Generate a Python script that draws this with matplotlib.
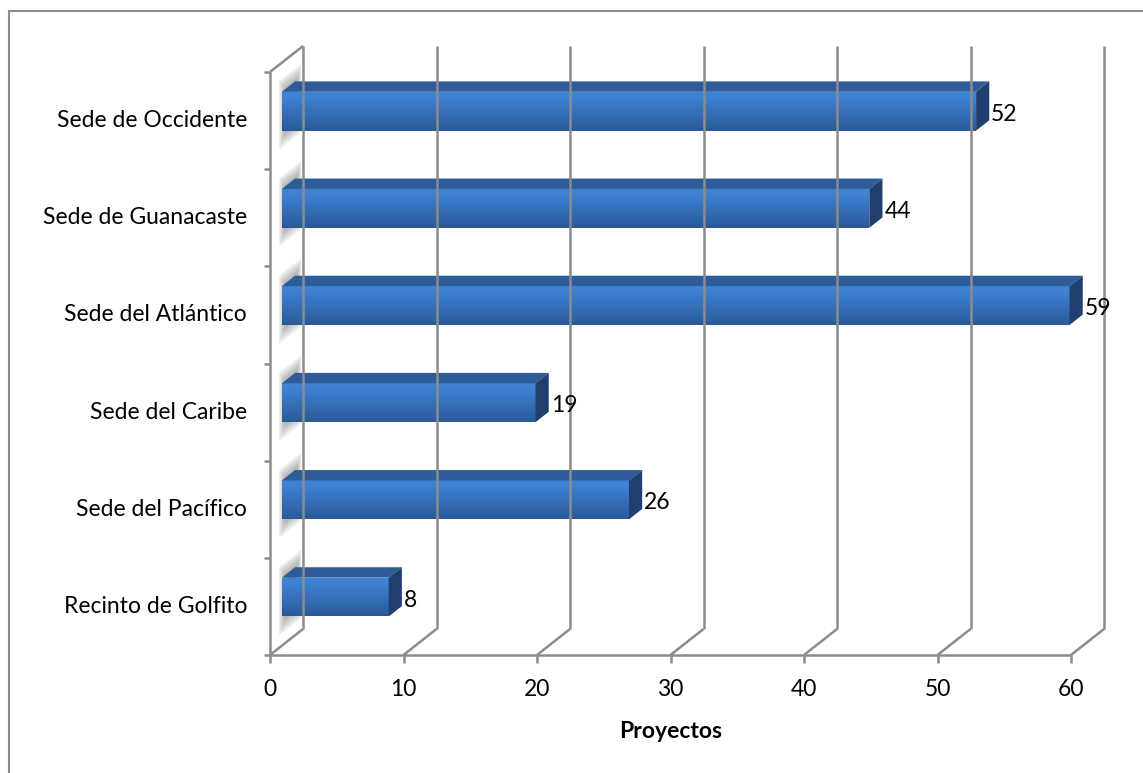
import matplotlib
matplotlib.use("Agg")
import matplotlib.pyplot as plt
import numpy as np
from matplotlib.colors import to_rgb
from matplotlib.patches import Polygon, Rectangle
from matplotlib.transforms import IdentityTransform, ScaledTranslation

# data (bottom to top, as drawn)
sedes = [
    "Recinto de Golfito",
    "Sede del Pacífico",
    "Sede del Caribe",
    "Sede del Atlántico",
    "Sede de Guanacaste",
    "Sede de Occidente",
]
proyectos = [8, 26, 19, 59, 44, 52]
x_ticks = [0, 10, 20, 30, 40, 50, 60]

plt.rcParams["font.family"] = ["Lato", "DejaVu Sans"]

GRID = "#8c8c8c"
FS = 16.5
DX, DY = 33, 26          # depth of the back wall, in pixels
D_FRONT, D_BACK = 0.36, 0.76   # bar depth range (fraction of wall depth)
BAR_H = 0.40

fig = plt.figure(figsize=(11.43, 7.73), dpi=100)
ax = fig.add_axes([270 / 1143, 118 / 773, 801 / 1143, 583 / 773])
ax.set_xlim(0, 60)
ax.set_ylim(0, len(sedes))
ax.axis("off")

ident = IdentityTransform()


def proj(x, y, d):
    """Data point pushed back d (0=front, 1=back wall) -> display pixels."""
    px, py = ax.transData.transform((x, y))
    return (px + d * DX, py + d * DY)


def offset(dx_px, dy_px):
    return ax.transData + ScaledTranslation(dx_px / 100, dy_px / 100, fig.dpi_scale_trans)


def seg(p, q, **kw):
    ax.plot([p[0], q[0]], [p[1], q[1]], transform=ident, clip_on=False,
            color=GRID, lw=1.8, solid_capstyle="butt", **kw)


ymax = len(sedes)

# walls / gridlines
for t in x_ticks:
    seg(proj(t, 0, 1), proj(t, ymax, 1))
    seg(proj(t, 0, 0), proj(t, 0, 1))
    bx, by = proj(t, 0, 0)
    seg((bx, by), (bx, by - 8))
seg(proj(0, 0, 0), proj(0, ymax, 0))
seg(proj(0, ymax, 0), proj(0, ymax, 1))
seg(proj(0, 0, 0), proj(60, 0, 0))
for k in range(ymax + 1):
    lx, ly = proj(0, k, 0)
    seg((lx - 6, ly), (lx, ly))

# bars
top_c = np.array(to_rgb("#3e82d4"))
bot_c = np.array(to_rgb("#2a5896"))
n_strips = 30
for i, (name, v) in enumerate(zip(sedes, proyectos)):
    c = i + 0.5
    y0, y1 = c - BAR_H / 2, c + BAR_H / 2

    # soft shadow on the left wall
    for s in range(7):
        g = s * 0.03
        ax.add_patch(Polygon(
            [proj(0, y0 - 0.17 + g, 0.28 + s * 0.04), proj(0, y0 - 0.17 + g, 0.95 - s * 0.03),
             proj(0, y1 + 0.13 - g, 0.95 - s * 0.03), proj(0, y1 + 0.13 - g, 0.28 + s * 0.04)],
            closed=True, transform=ident, fc="#4a4a4a", ec="none", alpha=0.1, clip_on=False))

    # front face with vertical gradient
    h = BAR_H / n_strips
    for k in range(n_strips):
        f = (k + 0.5) / n_strips
        col = bot_c + (top_c - bot_c) * min(1.0, f * 1.15)
        ax.add_patch(Rectangle((0, y0 + k * h), v, h * 1.02,
                               transform=offset(D_FRONT * DX, D_FRONT * DY),
                               fc=col, ec="none", clip_on=False))
    # top face
    ax.add_patch(Polygon(
        [proj(0, y1, D_FRONT), proj(v, y1, D_FRONT), proj(v, y1, D_BACK), proj(0, y1, D_BACK)],
        closed=True, transform=ident, fc="#2d5c98", ec="none", clip_on=False))
    # side face
    ax.add_patch(Polygon(
        [proj(v, y0, D_FRONT), proj(v, y1, D_FRONT), proj(v, y1, D_BACK), proj(v, y0, D_BACK)],
        closed=True, transform=ident, fc="#213f6e", ec="none", clip_on=False))

    # value label
    ax.text(v, c, f"{v}", transform=offset(D_BACK * DX + 2, D_FRONT * DY - 3),
            ha="left", va="center", fontsize=FS, color="black")
    # category label
    ax.text(0, c, name, transform=offset(-23, 0), ha="right", va="center",
            fontsize=FS, color="black")

for t in x_ticks:
    ax.text(t, 0, f"{t}", transform=offset(0, -35), ha="center", va="center",
            fontsize=FS, color="black")

ax.text(30, 0, "Proyectos", transform=offset(0, -76), ha="center", va="center",
        fontsize=FS, fontweight="bold", color="black")

# chart-area border (runs off the right and bottom edges)
fig.add_artist(Rectangle((9 / 1143, -0.1), 1.2, 1.1 - 11 / 773, transform=fig.transFigure,
                         fill=False, ec=GRID, lw=1.5))

fig.savefig("out.png", dpi=100)
